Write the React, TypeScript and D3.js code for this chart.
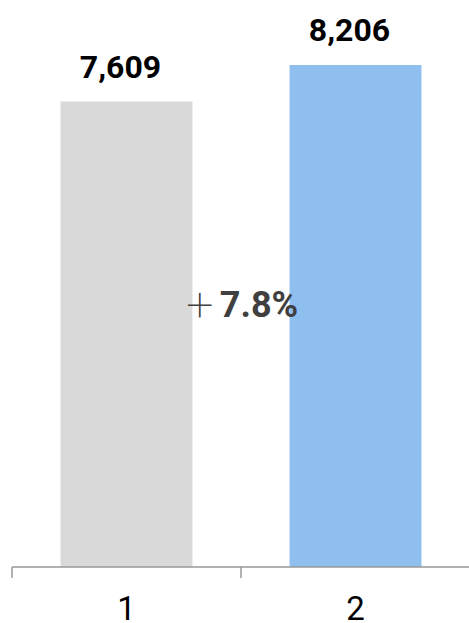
import React from "react";
import * as d3 from "d3";

const categories = ["1", "2"];
const values = [7609, 8206];
const valueLabels = ["7,609", "8,206"];
const changeSign = "＋";
const changeValue = "7.8%";
const colors = ["#d9d9d9", "#8fbfef"];

const W = 469;
const H = 623;
const axisY = 567;

export default function App() {
  const x = d3.scaleBand<string>().domain(categories).range([12, 470]).paddingInner(0.424).paddingOuter(0.212);
  const y = d3.scaleLinear().domain([0, 9000]).range([axisY, axisY - 9000 * (502 / 8206)]);
  const bw = x.bandwidth();
  const step = x.step();
  const font = "Roboto, 'Liberation Sans', Arial, sans-serif";
  return (
    <svg
      width={W}
      height={H}
      style={{ position: "absolute", left: 0, top: 0, background: "#fff" }}
    >
      {categories.map((c, i) => (
        <rect key={c} x={x(c)} y={y(values[i])} width={bw} height={axisY - y(values[i])} fill={colors[i]} />
      ))}
      {categories.map((c, i) => (
        <text
          key={"v" + c}
          x={(x(c) as number) + bw / 2 - 6}
          y={y(values[i]) - 24}
          textAnchor="middle"
          fontFamily={font}
          fontWeight="bold"
          fontSize={32}
          fill="#000"
        >
          {valueLabels[i]}
        </text>
      ))}
      <line x1={12} x2={W} y1={axisY} y2={axisY} stroke="#999" strokeWidth={1.5} />
      {[0, 1].map((i) => (
        <line key={"t" + i} x1={12 + i * step} x2={12 + i * step} y1={axisY} y2={axisY + 11} stroke="#999" strokeWidth={1.5} />
      ))}
      {categories.map((c) => (
        <text
          key={"l" + c}
          x={(x(c) as number) + bw / 2}
          y={620}
          textAnchor="middle"
          fontFamily={font}
          fontSize={33}
          fill="#000"
        >
          {c}
        </text>
      ))}
      <text x={241} y={317} textAnchor="middle" fontSize={36} fill="#404040">
        <tspan fontFamily="'Noto Sans CJK JP', sans-serif" fontWeight={300} fontSize={32}>{changeSign}</tspan>
        <tspan dx={4} fontFamily={font} fontWeight="bold">{changeValue}</tspan>
      </text>
    </svg>
  );
}
